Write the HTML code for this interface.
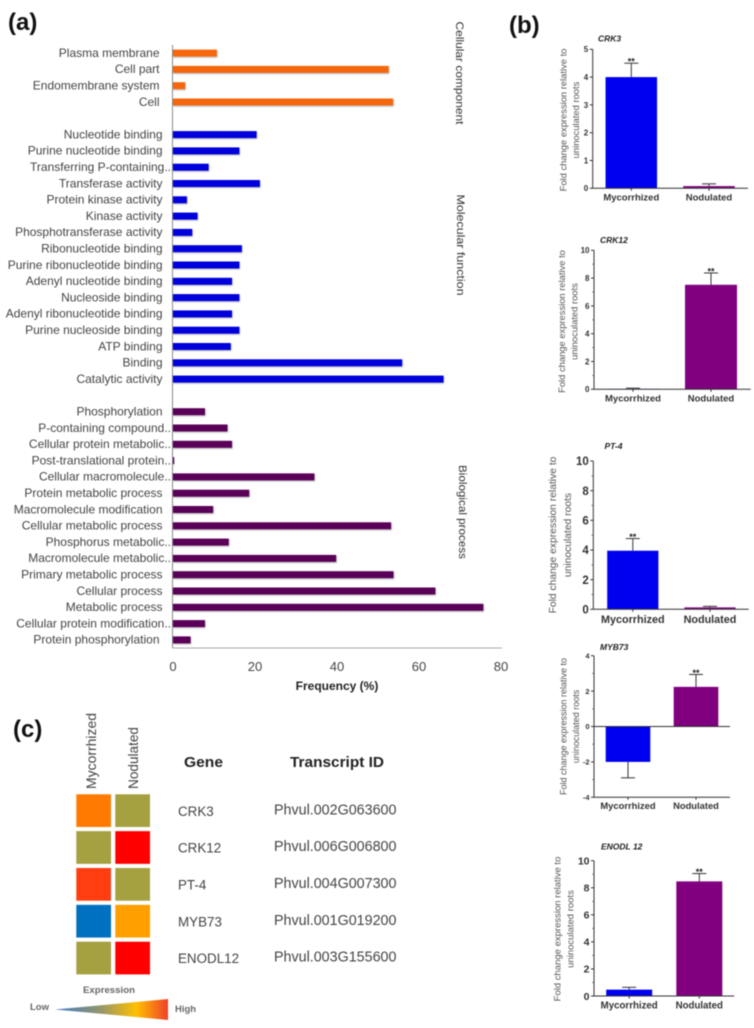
<!DOCTYPE html>
<html lang="en">
<head>
<meta charset="utf-8">
<title>Gene ontology frequency, fold change expression and heatmap</title>
<style>
html,body{margin:0;padding:0;background:#fff;width:754px;height:1028px;overflow:hidden}
svg{display:block;filter:blur(0.45px)}
text{font-family:"Liberation Sans",sans-serif}
</style>
</head>
<body>
<svg id="figure" xmlns="http://www.w3.org/2000/svg" width="754" height="1028" viewBox="0 0 754 1028">
  <defs>
    <linearGradient id="expr-grad" x1="0" x2="1" y1="0" y2="0">
      <stop offset="0" stop-color="#3d78c8"/>
      <stop offset="0.4" stop-color="#93966a"/>
      <stop offset="0.72" stop-color="#ffc000"/>
      <stop offset="1" stop-color="#f0402a"/>
    </linearGradient>
    <filter id="bar-shadow" x="-5%" y="-30%" width="110%" height="170%">
      <feDropShadow dx="0.6" dy="1" stdDeviation="0.8" flood-color="#000" flood-opacity="0.3"/>
    </filter>
  </defs>
  <rect width="754" height="1028" fill="#fff"/>
  <text x="8" y="30" font-size="24" font-weight="700" fill="#111">(a)</text>
  <text x="509" y="33" font-size="24" font-weight="700" fill="#111">(b)</text>
  <text x="13" y="737" font-size="24" font-weight="700" fill="#111">(c)</text>

  <text transform="translate(456,73) rotate(90)" text-anchor="middle" font-size="11" fill="#333" textLength="103" lengthAdjust="spacingAndGlyphs">Cellular component</text>
  <text transform="translate(457,245) rotate(90)" text-anchor="middle" font-size="11" fill="#333" textLength="101" lengthAdjust="spacingAndGlyphs">Molecular function</text>
  <text transform="translate(459,512) rotate(90)" text-anchor="middle" font-size="11" fill="#333" textLength="94" lengthAdjust="spacingAndGlyphs">Biological process</text>
  <text x="337" y="690" text-anchor="middle" font-size="12" font-weight="700" fill="#222">Frequency (%)</text>

  <text transform="translate(96,789) rotate(-90)" font-size="14" fill="#444" textLength="76" lengthAdjust="spacingAndGlyphs">Mycorrhized</text>
  <text transform="translate(138,789) rotate(-90)" font-size="14" fill="#444" textLength="62" lengthAdjust="spacingAndGlyphs">Nodulated</text>
  <text x="184" y="767" font-size="14.5" font-weight="700" fill="#222" textLength="39" lengthAdjust="spacingAndGlyphs">Gene</text>
  <text x="290" y="767" font-size="14.5" font-weight="700" fill="#222" textLength="94" lengthAdjust="spacingAndGlyphs">Transcript ID</text>
  <text x="83" y="993" font-size="9.5" font-weight="700" fill="#666" textLength="52" lengthAdjust="spacingAndGlyphs">Expression</text>
  <text x="30" y="1010" font-size="9.5" font-weight="700" fill="#666">Low</text>
  <text x="175" y="1012" font-size="9.5" font-weight="700" fill="#666">High</text>
  <polygon points="55,1009.5 168,999 168,1020" fill="url(#expr-grad)"/>
</svg>
<script>
/* ---------- panel (a) data ---------- */
const cellularLabels = ["Plasma membrane","Cell part","Endomembrane system","Cell"];
const cellularValues = [10.7,52.6,3,53.7];
const molecularLabels = ["Nucleotide binding","Purine nucleotide binding","Transferring P-containing..","Transferase activity","Protein kinase activity","Kinase activity","Phosphotransferase activity","Ribonucleotide binding","Purine ribonucleotide binding","Adenyl nucleotide binding","Nucleoside binding","Adenyl ribonucleotide binding","Purine nucleoside binding","ATP binding","Binding","Catalytic activity"];
const molecularValues = [20.4,16.2,8.7,21.2,3.4,6,4.7,16.8,16.2,14.4,16.2,14.4,16.2,14.1,55.9,66];
const biologicalLabels = ["Phosphorylation","P-containing compound..","Cellular protein metabolic..","Post-translational protein..","Cellular macromolecule..","Protein metabolic process","Macromolecule modification","Cellular metabolic process","Phosphorus metabolic..","Macromolecule metabolic..","Primary metabolic process","Cellular process","Metabolic process","Cellular protein modification..","Protein phosphorylation"];
const biologicalValues = [7.8,13.3,14.4,0.3,34.5,18.6,9.8,53.2,13.6,39.8,53.8,64,75.7,7.8,4.3];
const frequencyTicks = [0,20,40,60,80];

/* ---------- panel (b) data ---------- */
const conditionLabels = ["Mycorrhized","Nodulated"];
const crk3Values = [4,0.08];
const crk3Errors = [0.5,0.08];
const crk3Ticks = [0,1,2,3,4,5];
const crk12Values = [0.03,7.52];
const crk12Errors = [0.05,0.85];
const crk12Ticks = [0,2,4,6,8,10];
const pt4Values = [3.95,0.13];
const pt4Errors = [0.82,0.07];
const pt4Ticks = [0,2,4,6,8,10];
const myb73Values = [-2,2.24];
const myb73Errors = [0.9,0.7];
const myb73Ticks = [-4,-2,0,2,4];
const enodl12Values = [0.47,8.47];
const enodl12Errors = [0.17,0.58];
const enodl12Ticks = [0,2,4,6,8,10];

/* ---------- panel (c) data ---------- */
const geneNames = ["CRK3","CRK12","PT-4","MYB73","ENODL12"];
const transcriptIds = ["Phvul.002G063600","Phvul.006G006800","Phvul.004G007300","Phvul.001G019200","Phvul.003G155600"];
const mycorrhizedLevels = [0.75,0.4,0.88,0,0.4];
const nodulatedLevels = [0.4,1,0.4,0.65,1];

/* ---------- helpers ---------- */
const NS = "http://www.w3.org/2000/svg";
const svg = document.getElementById("figure");
function make(tag, attrs, text) {
  const node = document.createElementNS(NS, tag);
  for (const k in attrs) node.setAttribute(k, attrs[k]);
  if (text !== undefined) node.textContent = text;
  svg.appendChild(node);
  return node;
}
function slug(s) {
  return String(s).toLowerCase().replace(/[^a-z0-9]+/g, "-").replace(/^-|-$/g, "");
}

/* ---------- panel (a) ---------- */
const freqX = v => 173 + v * 4.1;
const rowY = i => 52.9 + i * 16.3;
function drawGroup(labels, values, startRow, color, labelRight) {
  labels.forEach((label, i) => {
    const y = rowY(startRow + i);
    const bar = make("rect", {x: freqX(0), y: y - 3.3, width: freqX(values[i]) - freqX(0), height: 7, fill: color, filter: "url(#bar-shadow)"});
    
    
    const truncated = label.endsWith("..");
    const right = truncated ? 171 : (label === "Protein phosphorylation" ? 159.5 : labelRight);
    const t = make("text", {x: right, y: y + 4, "text-anchor": "end", "font-size": 12, fill: "#444"}, label);
    
    
  });
}
drawGroup(cellularLabels, cellularValues, 0, "#f5660c", 159.5);
drawGroup(molecularLabels, molecularValues, 5, "#0000dc", 162.5);
drawGroup(biologicalLabels, biologicalValues, 22, "#5a0058", 162.5);

const yAxisA = make("line", {x1: 172.5, x2: 172.5, y1: 45, y2: 648, stroke: "#888", "stroke-width": 1});


const xAxisA = make("line", {x1: 172.5, x2: 502, y1: 648, y2: 648, stroke: "#aaa", "stroke-width": 1});


frequencyTicks.forEach(v => {
  const t = make("text", {x: freqX(v), y: 671, "text-anchor": "middle", "font-size": 13, fill: "#444"}, v);
  
  
});

/* ---------- panel (b) ---------- */
function drawMiniChart(name, title, values, errors, ticks, box) {
  const lo = ticks[0], hi = ticks[ticks.length - 1];
  const yScale = v => box.yBase + (v - lo) / (hi - lo) * (box.yTop - box.yBase);
  const zeroY = yScale(0);
  const prefix = slug(name);

  const titleEl = make("text", {x: box.titleX, y: box.titleY, "font-size": 8.5, "font-weight": 700, "font-style": "italic", fill: "#222"}, title);
  
  

  const l1 = make("text", {transform: `translate(${box.labelX1},${box.labelY}) rotate(-90)`, "text-anchor": "middle", "font-size": box.labelSize, fill: "#555"}, "Fold change expression relative to");
  
  
  const l2 = make("text", {transform: `translate(${box.labelX2},${box.labelY}) rotate(-90)`, "text-anchor": "middle", "font-size": box.labelSize, fill: "#555"}, "uninoculated roots");
  
  

  values.forEach((v, i) => {
    const cx = box.barCenters[i];
    const top = Math.min(yScale(v), zeroY);
    const barH = Math.abs(yScale(v) - zeroY);
    const dir = v >= 0 ? 1 : -1;
    const errEnd = yScale(v + dir * errors[i]);
    const stem = make("line", {x1: cx, x2: cx, y1: yScale(v), y2: errEnd, stroke: "#333", "stroke-width": 1});
    
    
    const cap = make("line", {x1: cx - 7, x2: cx + 7, y1: errEnd, y2: errEnd, stroke: "#333", "stroke-width": 1});
    
    
    const bar = make("rect", {x: cx - box.barWidth / 2, y: top, width: box.barWidth, height: barH, fill: i === 0 ? "#0000f0" : "#800080"});
    
    
    const cat = make("text", {x: cx, y: box.catY, "text-anchor": "middle", "font-size": box.catSize, "font-weight": 700, fill: "#333"}, conditionLabels[i]);
    
    
    const tickMark = make("line", {x1: cx, x2: cx, y1: yScale(lo), y2: yScale(lo) + 2.5, stroke: "#333", "stroke-width": 1});
    
    
    if (box.starred === i) {
      const star = make("text", {x: cx, y: errEnd + 1.5, "text-anchor": "middle", "font-size": 9, "font-weight": 700, fill: "#222"}, "**");
      
      
    }
  });

  const axisY = make("line", {x1: box.axisX, x2: box.axisX, y1: yScale(hi), y2: yScale(lo), stroke: "#333", "stroke-width": 1});
  
  
  const axisBase = yScale(lo);
  const axisX = make("line", {x1: box.axisX, x2: box.axisEnd, y1: axisBase, y2: axisBase, stroke: "#333", "stroke-width": 1});
  
  
  if (lo < 0) {
    const zeroLine = make("line", {x1: box.axisX, x2: box.axisEnd, y1: zeroY, y2: zeroY, stroke: "#333", "stroke-width": 1});
    
    
  }
  ticks.forEach((tv, i) => {
    const ty = yScale(tv);
    const tm = make("line", {x1: box.axisX - 3, x2: box.axisX, y1: ty, y2: ty, stroke: "#333", "stroke-width": 1});
    
    
    const tl = make("text", {x: box.axisX - 4.5, y: ty + box.tickSize * 0.36, "text-anchor": "end", "font-size": box.tickSize, "font-weight": 700, fill: "#333"}, tv);
    
    
    if (box.minor && i < ticks.length - 1) {
      const my = yScale((tv + ticks[i + 1]) / 2);
      const mm = make("line", {x1: box.axisX - 1.8, x2: box.axisX, y1: my, y2: my, stroke: "#555", "stroke-width": 0.8});
      
      
    }
  });
}

drawMiniChart("crk3", "CRK3", crk3Values, crk3Errors, crk3Ticks, {
  axisX: 592.7, axisEnd: 748, yBase: 188.3, yTop: 49.3, barCenters: [631.3, 709], barWidth: 51.5,
  titleX: 598, titleY: 41.5, labelX1: 566.5, labelX2: 579, labelY: 120, labelSize: 9.4,
  catY: 200.5, catSize: 9.5, tickSize: 8, starred: 0, minor: false});
drawMiniChart("crk12", "CRK12", crk12Values, crk12Errors, crk12Ticks, {
  axisX: 594, axisEnd: 750.7, yBase: 389.3, yTop: 250.3, barCenters: [633, 711], barWidth: 52,
  titleX: 600, titleY: 243, labelX1: 565, labelX2: 577.5, labelY: 321.5, labelSize: 9.4,
  catY: 401.5, catSize: 9.5, tickSize: 8, starred: 1, minor: true});
drawMiniChart("pt-4", "PT-4", pt4Values, pt4Errors, pt4Ticks, {
  axisX: 593.3, axisEnd: 748.7, yBase: 609.3, yTop: 461, barCenters: [632.8, 710], barWidth: 51.2,
  titleX: 604.5, titleY: 449, labelX1: 556, labelX2: 571, labelY: 535, labelSize: 10.3,
  catY: 623, catSize: 10.8, tickSize: 11.5, starred: 0, minor: true});
drawMiniChart("myb73", "MYB73", myb73Values, myb73Errors, myb73Ticks, {
  axisX: 594, axisEnd: 730, yBase: 797.3, yTop: 655.7, barCenters: [628, 696], barWidth: 44.6,
  titleX: 600, titleY: 650, labelX1: 566.5, labelX2: 579, labelY: 726.5, labelSize: 9,
  catY: 809, catSize: 9.4, tickSize: 7.5, starred: 1, minor: true});
drawMiniChart("enodl12", "ENODL 12", enodl12Values, enodl12Errors, enodl12Ticks, {
  axisX: 594, axisEnd: 734.3, yBase: 996, yTop: 860.7, barCenters: [629.2, 699.3], barWidth: 46,
  titleX: 601, titleY: 849.7, labelX1: 560.5, labelX2: 573.5, labelY: 929, labelSize: 9.5,
  catY: 1008.5, catSize: 9.7, tickSize: 10.5, starred: 1, minor: true});

/* ---------- panel (c) ---------- */
const colorStops = [[0,[0,112,192]],[0.4,[165,160,64]],[0.65,[255,160,0]],[0.75,[255,122,0]],[0.88,[255,61,16]],[1,[255,0,0]]];
function levelColor(v) {
  for (let i = 1; i < colorStops.length; i++) {
    if (v <= colorStops[i][0]) {
      const a = colorStops[i - 1], b = colorStops[i];
      const f = (v - a[0]) / (b[0] - a[0]);
      return "rgb(" + a[1].map((c, k) => Math.round(c + (b[1][k] - c) * f)).join(",") + ")";
    }
  }
  return "rgb(255,0,0)";
}
const heatRowY = i => 794.3 + i * 36.85;
const heatColX = j => 76.3 + j * 39;
geneNames.forEach((gene, i) => {
  [mycorrhizedLevels, nodulatedLevels].forEach((series, j) => {
    const cell = make("rect", {x: heatColX(j), y: heatRowY(i), width: 34.7, height: 32.7, fill: levelColor(series[i])});
    
    
  });
  const g = make("text", {x: 178, y: heatRowY(i) + 21.5, "font-size": 13.4, fill: "#444"}, gene);
  
  
  const id = make("text", {x: 274, y: heatRowY(i) + 20, "font-size": 14.3, fill: "#444"}, transcriptIds[i]);
  
  
});
</script>
</body>
</html>
